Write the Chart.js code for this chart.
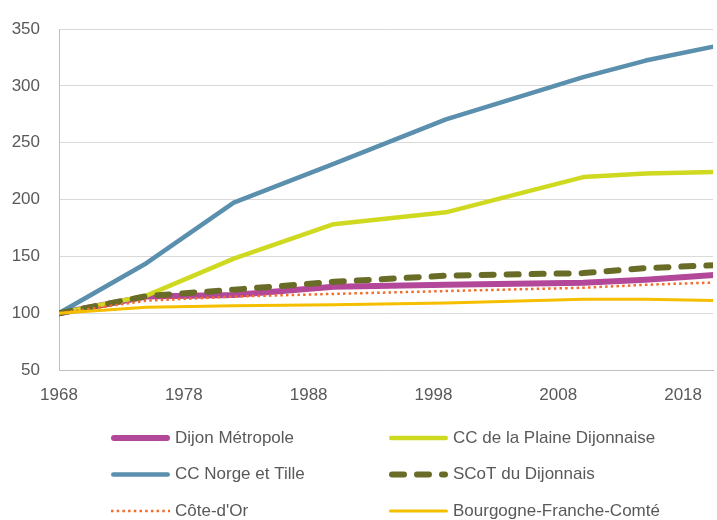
<!DOCTYPE html>
<html lang="fr">
<head>
<meta charset="utf-8">
<title>Évolution de la population (base 100 en 1968)</title>
<script src="https://cdn.jsdelivr.net/npm/chart.js@4.4.1/dist/chart.umd.min.js"></script>
<style>
  html, body { margin: 0; padding: 0; background: #fff; }
  canvas { display: block; }
</style>
</head>
<body>
<canvas id="popChart" width="717" height="520"></canvas>
<script>
// Indice base 100 en 1968, années de recensement
const years = [1968, 1975, 1982, 1990, 1999, 2010, 2015, 2021];
const xTicks = [1968, 1978, 1988, 1998, 2008, 2018];
const yTicks = [50, 100, 150, 200, 250, 300, 350];

const seriesNames = [
    "Dijon Métropole",
    "CC de la Plaine Dijonnaise",
    "CC Norge et Tille",
    "SCoT du Dijonnais",
    "Côte-d'Or",
    "Bourgogne-Franche-Comté"
];

const dijonMetropole   = [100, 114.6, 116, 123.3, 125, 126.7, 129.5, 134];
const plaineDijonnaise = [100, 115.5, 148, 178.4, 188.8, 219.8, 223, 224.5];
const norgeTille       = [100, 144, 197.4, 231.5, 270.6, 307.8, 322.4, 336];
const scotDijonnais    = [100, 115, 120.7, 127.6, 133, 135.3, 139.7, 142.5];
const coteDOr          = [100, 111, 114.6, 117, 119.5, 122.4, 125, 127.2];
const bourgogneFC      = [100, 105.2, 106.6, 107.5, 108.9, 112.3, 112.3, 111];

const seriesValues = [dijonMetropole, plaineDijonnaise, norgeTille, scotDijonnais, coteDOr, bourgogneFC];

// styles des séries (dans l'ordre de la légende)
const seriesStyles = [
    { color: '#B3479A', width: 6,   dash: [],        cap: 'round' },
    { color: '#CFD920', width: 4.5, dash: [],        cap: 'round' },
    { color: '#5B8FAE', width: 4.5, dash: [],        cap: 'round' },
    { color: '#686C27', width: 6,   dash: [12, 13],  cap: 'round' },
    { color: '#F26D2D', width: 2.5, dash: [2.5, 3.2], cap: 'butt' },
    { color: '#F5BF00', width: 3,   dash: [],        cap: 'round' }
];

const GREY_TEXT = '#595959';
const AXIS_FONT = { family: "'Liberation Sans', Arial, sans-serif", size: 17 };
const LEGEND_FONT = "17px 'Liberation Sans', Arial, sans-serif";

const datasets = seriesNames.map((name, i) => ({
    label: name,
    data: years.map((y, j) => ({ x: y, y: seriesValues[i][j] })),
    borderColor: seriesStyles[i].color,
    backgroundColor: seriesStyles[i].color,
    borderWidth: seriesStyles[i].width,
    borderDash: seriesStyles[i].dash,
    borderCapStyle: seriesStyles[i].cap,
    borderJoinStyle: 'round',
    pointRadius: 0,
    tension: 0,
    fill: false,
    order: seriesNames.length - i   // comme Excel : dernière série au-dessus
}));

// légende sur 2 colonnes, dessinée sous le graphique
const bottomLegend = {
    id: 'bottomLegend',
    afterDraw(chart) {
        const ctx = chart.ctx;
        chart.data.datasets.forEach((ds, i) => {
            const col = i % 2;
            const row = Math.floor(i / 2);
            const x0 = col ? 389 : 111;
            const y = 438 + row * 36.5;
            ctx.save();
            ctx.strokeStyle = ds.borderColor;
            ctx.lineWidth = ds.borderWidth;
            ctx.lineCap = ds.borderCapStyle;
            ctx.setLineDash(ds.borderDash || []);
            const inset = ds.borderCapStyle === 'round' ? ds.borderWidth / 2 : 0;
            ctx.beginPath();
            ctx.moveTo(x0 + inset, y);
            ctx.lineTo(x0 + 59 - inset, y);
            ctx.stroke();
            ctx.setLineDash([]);
            ctx.fillStyle = GREY_TEXT;
            ctx.font = LEGEND_FONT;
            ctx.textBaseline = 'middle';
            ctx.textAlign = 'left';
            ctx.fillText(ds.label, x0 + 64, y);
            ctx.restore();
        });
    }
};

new Chart(document.getElementById('popChart'), {
    type: 'line',
    data: { datasets: datasets },
    plugins: [bottomLegend],
    options: {
        responsive: false,
        animation: false,
        devicePixelRatio: 1,
        layout: { padding: { left: 0, right: 0, top: 21, bottom: 116 } },
        plugins: {
            legend: { display: false },
            tooltip: { enabled: false }
        },
        scales: {
            x: {
                type: 'linear',
                min: 1968,
                max: 2020.4,
                afterBuildTicks: (scale) => { scale.ticks = xTicks.map(v => ({ value: v })); },
                afterFit: (scale) => { scale.height = 34; },
                grid: { display: false, drawTicks: false },
                border: { display: true, color: '#BFBFBF', width: 1 },
                ticks: {
                    color: GREY_TEXT,
                    font: AXIS_FONT,
                    padding: 15,
                    maxRotation: 0,
                    autoSkip: false,
                    callback: (v) => String(v)
                }
            },
            y: {
                min: 50,
                max: 350,
                afterBuildTicks: (scale) => { scale.ticks = yTicks.map(v => ({ value: v })); },
                afterFit: (scale) => { scale.width = 59; },
                grid: { color: '#D9D9D9', lineWidth: 1, drawTicks: false },
                border: { display: true, color: '#BFBFBF', width: 1 },
                ticks: {
                    color: GREY_TEXT,
                    font: AXIS_FONT,
                    padding: 19,
                    callback: (v) => String(v)
                }
            }
        }
    }
});
</script>
</body>
</html>
